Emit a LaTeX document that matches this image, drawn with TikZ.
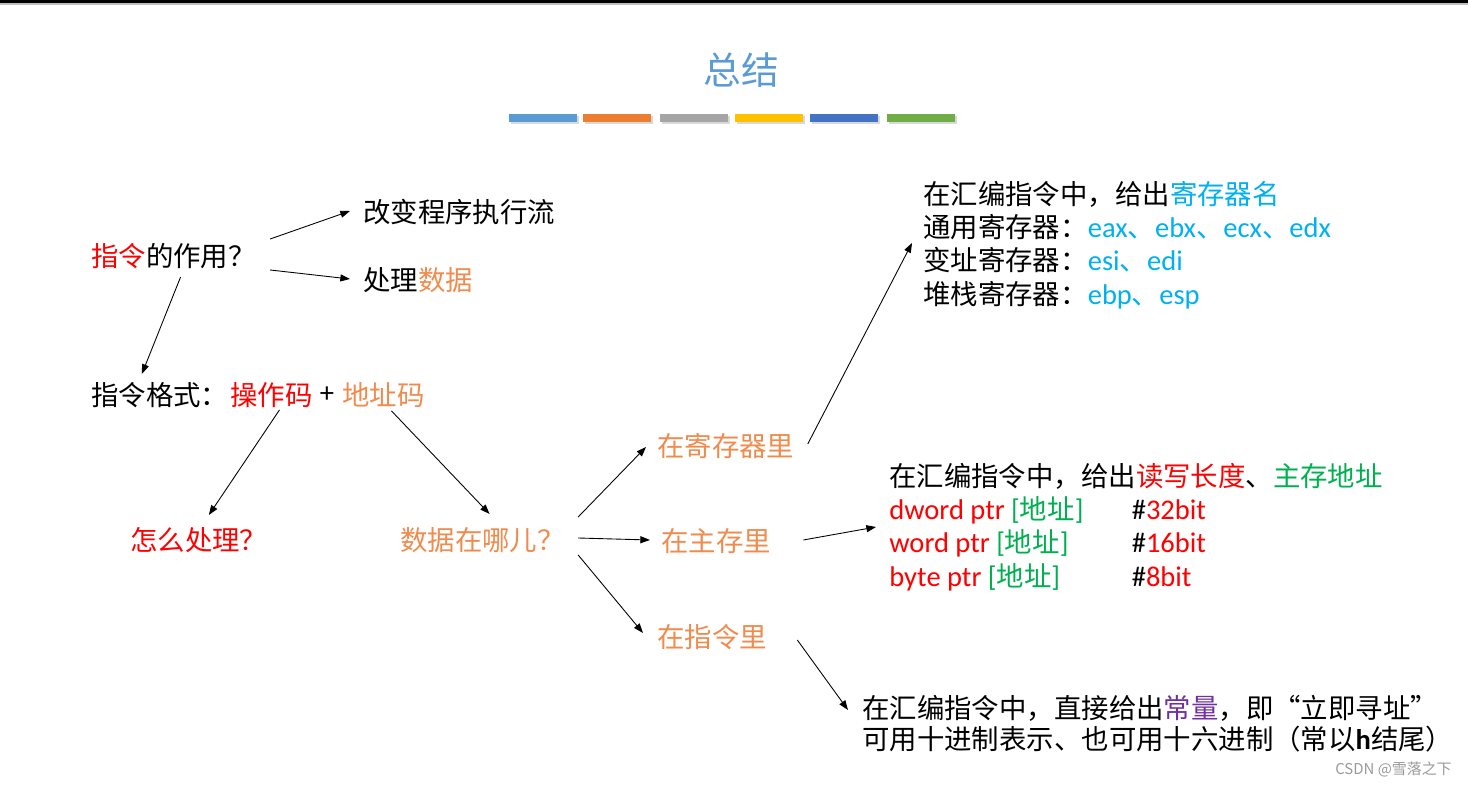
\documentclass[tikz,border=0pt]{standalone}
\usepackage{fontspec}
\setmainfont{Noto Sans CJK SC}
\newfontfamily\latfont[Scale=1.04]{Carlito}
\usetikzlibrary{arrows.meta, calc}
\definecolor{SumBlue}{HTML}{5B9BD5}
\definecolor{BarOrange}{HTML}{ED7D31}
\definecolor{BarGray}{HTML}{A5A5A5}
\definecolor{BarGold}{HTML}{FFC000}
\definecolor{BarNavy}{HTML}{4472C4}
\definecolor{BarGreen}{HTML}{70AD47}
\definecolor{KeyRed}{HTML}{FF0000}
\definecolor{DataOrange}{HTML}{F08B4E}
\definecolor{RegCyan}{HTML}{00B0F0}
\definecolor{AddrGreen}{HTML}{00B050}
\definecolor{ConstPurple}{HTML}{7030A0}
\newcommand{\lat}[1]{{\latfont #1}}
\newcommand{\memrow}[2]{\makebox[138pt][l]{\textcolor{KeyRed}{\lat{#1 ptr }}\textcolor{AddrGreen}{\lat{[}地址\lat{]}}}\lat{\#\textcolor{KeyRed}{#2bit}}}
\tikzset{
  txt/.style={anchor=west, inner sep=0pt, align=left, font=\fontsize{15.6}{19}\selectfont},
  arr/.style={-{Triangle[length=5.5pt,width=4pt]}, line width=0.5pt},
}

\begin{document}
\begin{tikzpicture}[x=0.02cm, y=-0.02cm]
  \useasboundingbox (0,0) rectangle (1468,787);
  % Top rule and title
  \fill[black] (0,0) rectangle (1468,3.5);
  \fill[black!25] (0,3.5) rectangle (1468,5);
  \node[SumBlue, font=\fontsize{21.5}{24}\selectfont] (title) at (741,70) {总结};
  \foreach \x/\col in {509/SumBlue, 583/BarOrange, 660/BarGray, 735/BarGold, 810/BarNavy, 887/BarGreen} {
    \fill[black!15] (\x+2,116) rectangle (\x+70,124);
    \fill[\col] (\x,114) rectangle (\x+68,122);
  }

  % Left part
  \node[txt] (act) at (91,256) {\textcolor{KeyRed}{指令}的作用？};
  \node[txt] (chg) at (363,212) {改变程序执行流};
  \node[txt] (proc) at (363,280) {处理\textcolor{DataOrange}{数据}};
  \node[txt] (fmt) at (91,395) {指令格式：};
  \node[txt, KeyRed] (opc) at (230,395) {操作码};
  \node[txt, anchor=center] (plus) at (327,395) {\lat{+}};
  \node[txt, DataOrange] (adr) at (342,395) {地址码};
  \node[txt, KeyRed] (how) at (130,540) {怎么处理？};
  \node[txt, DataOrange] (where) at (400,540) {数据在哪儿？};

  % Where the data is
  \node[txt, DataOrange] (inreg) at (657,446) {在寄存器里};
  \node[txt, DataOrange] (inmem) at (661,541) {在主存里};
  \node[txt, DataOrange] (inins) at (657,637) {在指令里};

  \node[txt] (reg) at (923,245) {在汇编指令中，给出\textcolor{RegCyan}{寄存器名}\\
    通用寄存器：\textcolor{RegCyan}{\lat{eax}、\lat{ebx}、\lat{ecx}、\lat{edx}}\\
    变址寄存器：\textcolor{RegCyan}{\lat{esi}、\lat{edi}}\\
    堆栈寄存器：\textcolor{RegCyan}{\lat{ebp}、\lat{esp}}};
  \node[txt] (mem) at (889,527) {在汇编指令中，给出\textcolor{KeyRed}{读写长度}、\textcolor{AddrGreen}{主存地址}\\
    \memrow{dword}{32}\\
    \memrow{word}{16}\\
    \memrow{byte}{8}};
  \node[txt, font=\fontsize{15.6}{17.6}\selectfont] (imm) at (862,724) {在汇编指令中，直接给出\textcolor{ConstPurple}{常量}，即“立即寻址”\\
    可用十进制表示、也可用十六进制（常以\lat{\textbf{h}}结尾）};

  % Arrows
  \draw[arr] ($(act.east)+(14,-17)$) -- ($(chg.west)+(-13,-1)$);
  \draw[arr] ($(act.east)+(14,14)$) -- ($(proc.west)+(-13,-1)$);
  \draw[arr] ($(act.south)+(7,8)$) -- ($(fmt.north)+(-18,-8)$);
  \draw[arr] ($(opc.south)+(8,2)$) -- ($(how.north)+(10,-12)$);
  \draw[arr] ($(adr.south)+(8,3)$) -- ($(where.north)+(7,-13)$);
  \draw[arr] ($(where.east)+(13,-23)$) -- ($(inreg.west)+(-11,1)$);
  \draw[arr] ($(where.east)+(13,-2)$) -- ($(inmem.west)+(-11,-1)$);
  \draw[arr] ($(where.east)+(13,15)$) -- ($(inins.west)+(-14,-4)$);
  \draw[arr] ($(inreg.east)+(13,-2)$) -- ($(reg.west)+(-11,-2)$);
  \draw[arr] ($(inmem.east)+(32,-1)$) -- ($(mem.west)+(-13,0)$);
  \draw[arr] ($(inins.east)+(30,3)$) -- ($(imm.west)+(-14,-14)$);

  % Source mark
  \node[anchor=east, inner sep=0pt, text=black!40, font=\fontsize{8.5}{10}\selectfont] (mark) at (1452,769) {CSDN @雪落之下};
\end{tikzpicture}
\end{document}
